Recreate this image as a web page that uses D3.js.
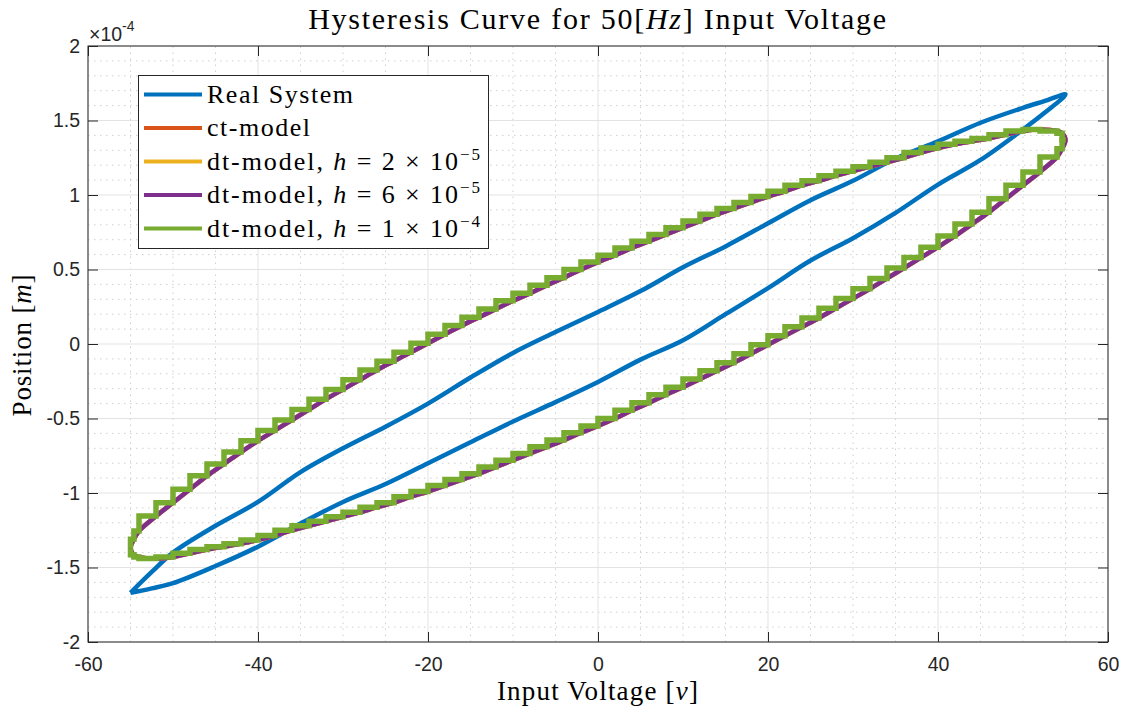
<!DOCTYPE html>
<html>
<head>
<meta charset="utf-8">
<script src="https://cdn.jsdelivr.net/npm/d3@7"></script>
<style>
  body { margin: 0; background: #fff; }
  svg { display: block; }
</style>
</head>
<body>
<div id="chart"></div>
<script>
// positions are in units of 1e-4 m (axis shows x10^-4)

// Real System loop
const blueV = [-55, -52.5, -50, -45, -40, -35, -30, -25, -20, -15, -10, -5, 0,
  5, 10, 15, 20, 25, 30, 35, 40, 45, 50, 52.5, 55];
const blueUpper = [-1.67, -1.53, -1.40, -1.22, -1.06, -0.86, -0.70, -0.555, -0.40, -0.225, -0.06, 0.08, 0.215,
  0.355, 0.515, 0.655, 0.81, 0.965, 1.095, 1.245, 1.36, 1.485, 1.585, 1.63, 1.675];
const blueLower = [-1.67, -1.64, -1.605, -1.49, -1.36, -1.205, -1.06, -0.94, -0.80, -0.66, -0.52, -0.39, -0.255,
  -0.105, 0.025, 0.20, 0.375, 0.56, 0.71, 0.88, 1.07, 1.235, 1.44, 1.55, 1.675];

// model loop (ct / dt)
const modelV = [-55, -54.6, -54, -52, -50, -48, -46, -44, -42, -40, -38, -36, -34, -32, -30,
  -28, -26, -24, -22, -20, -18, -16, -14, -12, -10, -8, -6, -4, -2, 0,
  2, 4, 6, 8, 10, 12, 14, 16, 18, 20, 22, 24, 26, 28, 30,
  32, 34, 36, 38, 40, 42, 44, 46, 48, 50, 52, 54, 54.6, 55];
const modelUpper = [-1.37, -1.31, -1.255, -1.155, -1.065, -0.975, -0.885, -0.805, -0.725, -0.65, -0.58, -0.51, -0.44, -0.37, -0.305,
  -0.24, -0.175, -0.115, -0.055, 0.005, 0.065, 0.125, 0.18, 0.235, 0.29, 0.34, 0.395, 0.445, 0.50, 0.55,
  0.595, 0.645, 0.69, 0.735, 0.78, 0.825, 0.87, 0.91, 0.95, 0.99, 1.025, 1.065, 1.095, 1.13, 1.16,
  1.19, 1.22, 1.25, 1.285, 1.315, 1.34, 1.36, 1.38, 1.405, 1.43, 1.44, 1.43, 1.415, 1.37];
const modelLower = [-1.37, -1.415, -1.43, -1.44, -1.43, -1.405, -1.38, -1.36, -1.34, -1.315, -1.285, -1.25, -1.22, -1.19, -1.16,
  -1.13, -1.095, -1.065, -1.025, -0.99, -0.95, -0.91, -0.87, -0.825, -0.78, -0.735, -0.69, -0.645, -0.595, -0.55,
  -0.50, -0.445, -0.395, -0.34, -0.29, -0.235, -0.18, -0.125, -0.065, -0.005, 0.055, 0.115, 0.175, 0.24, 0.305,
  0.37, 0.44, 0.51, 0.58, 0.65, 0.725, 0.805, 0.885, 0.975, 1.065, 1.155, 1.255, 1.31, 1.37];

const seriesNames = ["Real System", "ct-model", "dt-model, h = 2 × 10^−5", "dt-model, h = 6 × 10^−5", "dt-model, h = 1 × 10^−4"];
const seriesColors = ["#0072BD", "#D95319", "#EDB120", "#7E2F8E", "#77AC30"];
const hValues = ["2", "6", "1"];
const hExps = ["−5", "−5", "−4"];

const xTicks = [-60, -40, -20, 0, 20, 40, 60];
const yTicks = [-2, -1.5, -1, -0.5, 0, 0.5, 1, 1.5, 2];

const width = 1126, height = 713;
const margin = { top: 46, right: 18, bottom: 71, left: 88 };

const svg = d3.select("#chart").append("svg")
  .attr("width", width)
  .attr("height", height);

const x = d3.scaleLinear().domain([-60, 60]).range([margin.left, width - margin.right]);
const y = d3.scaleLinear().domain([-2, 2]).range([height - margin.bottom, margin.top]);

const serif = "'Liberation Serif', 'Times New Roman', serif";
const sans = "'Liberation Sans', Arial, sans-serif";

// spread letters so text matches the width in the reference
function fitWidth(t, target) {
  const n = t.text().length;
  const w = t.node().getComputedTextLength();
  t.attr("letter-spacing", (target - w) / Math.max(1, n - 1));
}

// minor grid
const xMinor = d3.range(-55, 60, 5).filter(v => v % 20 !== 0);
const yMinor = d3.range(-19, 20, 1).map(v => v / 10).filter(v => Math.abs(v * 2 - Math.round(v * 2)) > 1e-6);
const grid = svg.append("g");
grid.selectAll(".xminor").data(xMinor).join("line")
  .attr("x1", d => x(d)).attr("x2", d => x(d))
  .attr("y1", y(-2)).attr("y2", y(2))
  .attr("stroke", "#cfcfcf").attr("stroke-dasharray", "1.5,4.5");
grid.selectAll(".yminor").data(yMinor).join("line")
  .attr("y1", d => y(d)).attr("y2", d => y(d))
  .attr("x1", x(-60)).attr("x2", x(60))
  .attr("stroke", "#cfcfcf").attr("stroke-dasharray", "1.5,4.5");

// major grid
grid.selectAll(".xmajor").data(xTicks).join("line")
  .attr("x1", d => x(d)).attr("x2", d => x(d))
  .attr("y1", y(-2)).attr("y2", y(2))
  .attr("stroke", "#e3e3e3");
grid.selectAll(".ymajor").data(yTicks).join("line")
  .attr("y1", d => y(d)).attr("y2", d => y(d))
  .attr("x1", x(-60)).attr("x2", x(60))
  .attr("stroke", "#e3e3e3");

// lines
const blueLoop = blueV.map((v, i) => [v, blueUpper[i]])
  .concat(blueV.map((v, i) => [v, blueLower[i]]).reverse().slice(1));
const modelLoop = modelV.map((v, i) => [v, modelUpper[i]])
  .concat(modelV.map((v, i) => [v, modelLower[i]]).reverse().slice(1, -1));

const smooth = d3.line().x(d => x(d[0])).y(d => y(d[1])).curve(d3.curveCatmullRom);
const smoothClosed = d3.line().x(d => x(d[0])).y(d => y(d[1])).curve(d3.curveCatmullRomClosed);
const stairs = d3.line().x(d => x(d[0])).y(d => y(d[1])).curve(d3.curveStepBefore);

const plot = svg.append("g");
plot.append("path").attr("d", smooth(blueLoop))
  .attr("fill", "none").attr("stroke", seriesColors[0]).attr("stroke-width", 4.5);
plot.append("path").attr("d", smoothClosed(modelLoop))
  .attr("fill", "none").attr("stroke", seriesColors[1]).attr("stroke-width", 4.5);
plot.append("path").attr("d", smoothClosed(modelLoop))
  .attr("fill", "none").attr("stroke", seriesColors[2]).attr("stroke-width", 4.5);
plot.append("path").attr("d", smoothClosed(modelLoop))
  .attr("fill", "none").attr("stroke", seriesColors[3]).attr("stroke-width", 4.5);
[modelUpper, modelLower].forEach(branch => {
  plot.append("path").attr("d", stairs(modelV.map((v, i) => [v, branch[i]])))
    .attr("fill", "none").attr("stroke", seriesColors[4]).attr("stroke-width", 5.5);
});

// axes box + ticks (inside, MATLAB style)
const axisColor = "#262626";
svg.append("rect")
  .attr("x", x(-60)).attr("y", y(2))
  .attr("width", x(60) - x(-60)).attr("height", y(-2) - y(2))
  .attr("fill", "none").attr("stroke", axisColor).attr("stroke-width", 1);

const axB = svg.append("g").attr("transform", `translate(0,${y(-2)})`)
  .call(d3.axisBottom(x).tickValues(xTicks).tickSizeInner(-10).tickSizeOuter(0).tickPadding(15).tickFormat(d => String(d)));
const axT = svg.append("g").attr("transform", `translate(0,${y(2)})`)
  .call(d3.axisTop(x).tickValues(xTicks).tickSizeInner(-10).tickSizeOuter(0).tickFormat(""));
const axL = svg.append("g").attr("transform", `translate(${x(-60)},0)`)
  .call(d3.axisLeft(y).tickValues(yTicks).tickSizeInner(-10).tickSizeOuter(0).tickPadding(8).tickFormat(d => String(d)));
const axR = svg.append("g").attr("transform", `translate(${x(60)},0)`)
  .call(d3.axisRight(y).tickValues(yTicks).tickSizeInner(-10).tickSizeOuter(0).tickFormat(""));
[axB, axT, axL, axR].forEach(a => {
  a.select(".domain").remove();
  a.selectAll("line").attr("stroke", axisColor);
  a.selectAll("text").attr("fill", axisColor).style("font-family", sans).style("font-size", "19.5px");
});

// exponent
const expo = svg.append("text").attr("x", x(-60) + 1).attr("y", 41)
  .attr("fill", axisColor).style("font-family", sans).style("font-size", "19.5px");
expo.append("tspan").text("×10");
expo.append("tspan").attr("dy", -10).style("font-size", "14px").text("-4");

// title
const title = svg.append("text").attr("x", 598).attr("y", 29).attr("text-anchor", "middle")
  .attr("fill", "#000").style("font-family", serif).style("font-size", "30px");
title.append("tspan").text("Hysteresis Curve for 50[");
title.append("tspan").style("font-style", "italic").text("Hz");
title.append("tspan").text("] Input Voltage");
fitWidth(title, 578);

// axis labels
const xl = svg.append("text").attr("x", 598).attr("y", 700).attr("text-anchor", "middle")
  .style("font-family", serif).style("font-size", "27px");
xl.append("tspan").text("Input Voltage [");
xl.append("tspan").style("font-style", "italic").text("v");
xl.append("tspan").text("]");
fitWidth(xl, 201);

const yl = svg.append("text").attr("transform", `translate(31,345) rotate(-90)`).attr("text-anchor", "middle")
  .style("font-family", serif).style("font-size", "27px");
yl.append("tspan").text("Position [");
yl.append("tspan").style("font-style", "italic").text("m");
yl.append("tspan").text("]");
fitWidth(yl, 142);

// legend
const legend = svg.append("g");
legend.append("rect").attr("x", 138.5).attr("y", 75.5).attr("width", 350).attr("height", 173)
  .attr("fill", "#fff").attr("stroke", axisColor).attr("stroke-width", 1);
const rowY = d3.scaleLinear().domain([0, 4]).range([94.5, 228.5]);
const legendWidths = [146, 103, 273, 273, 273];
seriesNames.forEach((name, i) => {
  legend.append("line")
    .attr("x1", 144).attr("x2", 202)
    .attr("y1", rowY(i)).attr("y2", rowY(i))
    .attr("stroke", seriesColors[i]).attr("stroke-width", 4);
  const t = legend.append("text").attr("x", 207).attr("y", rowY(i) + 8)
    .style("font-family", serif).style("font-size", "26px");
  if (i < 2) {
    t.text(name);
  } else {
    const k = i - 2;
    t.append("tspan").text("dt-model, ");
    t.append("tspan").style("font-style", "italic").text("h");
    t.append("tspan").text(" = " + hValues[k] + " × 10");
    t.append("tspan").attr("dy", -10).style("font-size", "17px").text(hExps[k]);
  }
  fitWidth(t, legendWidths[i]);
});
</script>
</body>
</html>
